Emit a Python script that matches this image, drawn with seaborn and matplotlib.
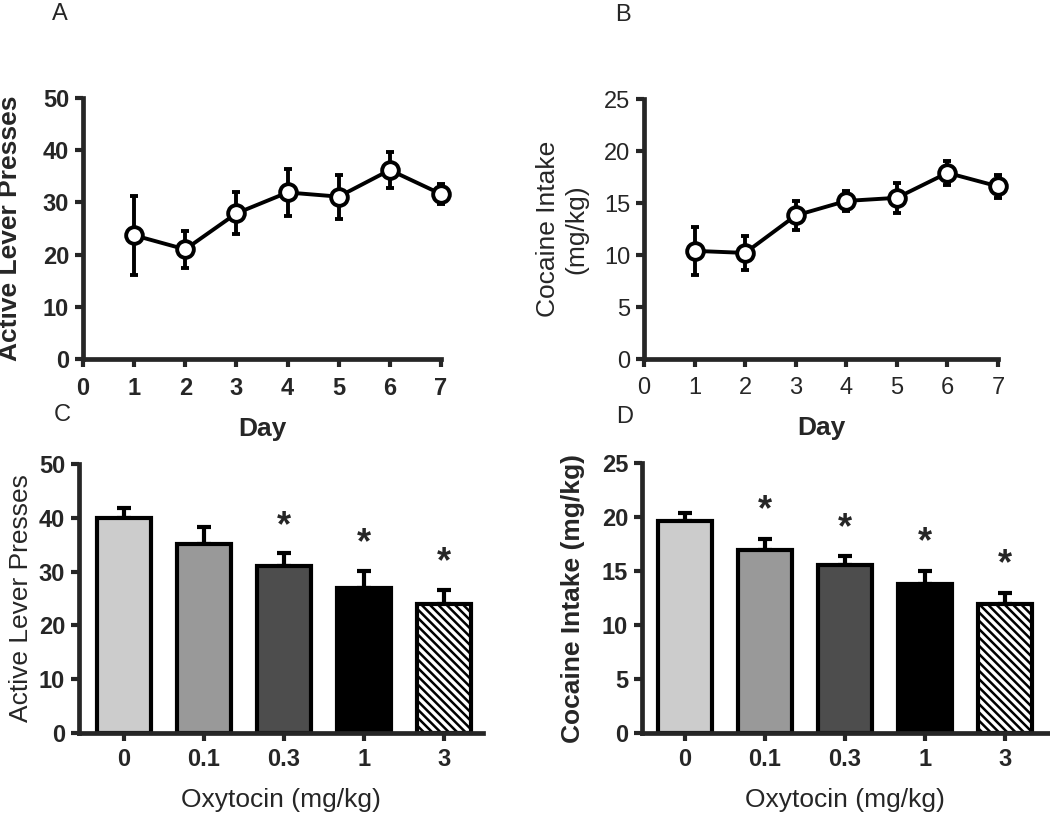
import numpy as np
import pandas as pd
import matplotlib
matplotlib.use("Agg")
import matplotlib.pyplot as plt
import seaborn as sns

# ---------------- DATA ----------------
days = [1, 2, 3, 4, 5, 6, 7]
a_presses = [23.7, 21.0, 27.9, 31.9, 31.1, 36.2, 31.6]
a_sem = [7.6, 3.5, 4.0, 4.5, 4.2, 3.5, 2.0]
b_intake = [10.4, 10.2, 13.8, 15.2, 15.5, 17.9, 16.6]
b_sem = [2.3, 1.6, 1.4, 1.0, 1.45, 1.15, 1.1]

doses = ["0", "0.1", "0.3", "1", "3"]
c_presses = [39.9, 35.1, 31.1, 27.0, 24.0]
c_sem = [2.0, 3.2, 2.3, 3.1, 2.6]
c_sig = [False, False, True, True, True]
d_intake = [19.6, 16.9, 15.6, 13.8, 11.9]
d_sem = [0.8, 1.1, 0.75, 1.2, 1.1]
d_sig = [False, True, True, True, True]

bar_colors = ["#cccccc", "#999999", "#4d4d4d", "#000000", "#ffffff"]

sns.set_style("ticks")
plt.rcParams["font.family"] = ["Liberation Sans", "DejaVu Sans"]
plt.rcParams["hatch.linewidth"] = 1.8

fig = plt.figure(figsize=(10.5, 8.15), dpi=100)
axA = fig.add_axes([0.079, 0.5595, 0.341, 0.3203])
axB = fig.add_axes([0.6133, 0.5595, 0.3372, 0.319])
axC = fig.add_axes([0.0752, 0.1006, 0.3848, 0.3301])
axD = fig.add_axes([0.6114, 0.1006, 0.3866, 0.3313])


def style_axes(ax, bold, pad):
    for s in ["top", "right"]:
        ax.spines[s].set_visible(False)
    for s in ["left", "bottom"]:
        ax.spines[s].set_linewidth(3.4)
    ax.tick_params(width=3, length=6, labelsize=17, pad=4)
    ax.tick_params(axis="x", pad=pad)
    for lab in ax.get_xticklabels() + ax.get_yticklabels():
        lab.set_fontweight("bold" if bold else "normal")


# ---------------- LINE PANELS ----------------
def line_panel(ax, y, err, ymax, step, ylabel, bold):
    df = pd.DataFrame({"Day": days, "val": y})
    ax.errorbar(days, y, yerr=err, fmt="none", ecolor="black",
                elinewidth=2.8, capsize=3, capthick=2.8, zorder=1, clip_on=False)
    sns.lineplot(data=df, x="Day", y="val", ax=ax, color="black", lw=2.8,
                 marker="o", markersize=12, markerfacecolor="white",
                 markeredgecolor="black", markeredgewidth=2.8, zorder=3, clip_on=False)
    ax.set_xlim(0, 7)
    ax.set_ylim(0, ymax)
    ax.set_xticks(range(0, 8))
    ax.set_yticks(np.arange(0, ymax + 1, step))
    ax.set_xlabel("Day", fontsize=19, fontweight="bold", labelpad=12)
    ax.set_ylabel(ylabel, fontsize=19, fontweight="bold" if bold else "normal")
    style_axes(ax, bold, 7)


line_panel(axA, a_presses, a_sem, 50, 10, "Active Lever Presses", True)
line_panel(axB, b_intake, b_sem, 25, 5, "Cocaine Intake\n(mg/kg)", False)
axA.yaxis.set_label_coords(-0.17, 0.5)
axB.yaxis.set_label_coords(-0.158, 0.5)


# ---------------- BAR PANELS ----------------
def bar_panel(ax, y, err, sig, ymax, step, ylabel, star_off, xlim, bold_label):
    df = pd.DataFrame({"dose": doses, "val": y})
    sns.barplot(data=df, x="dose", y="val", hue="dose", palette=bar_colors,
                ax=ax, width=0.675, edgecolor="black", linewidth=3,
                legend=False, errorbar=None, saturation=1)
    ax.patches[-1].set_hatch("\\\\\\\\")
    x = np.arange(len(doses))
    ax.errorbar(x, y, yerr=[np.zeros(len(y)), err], fmt="none", ecolor="black",
                elinewidth=3, capsize=5, capthick=3, zorder=0)
    for xi, yi, ei, s in zip(x, y, err, sig):
        if s:
            ax.text(xi, yi + ei + star_off, "*", ha="center", va="center",
                    fontsize=26, fontweight="bold")
    ax.set_xlim(*xlim)
    ax.set_ylim(0, ymax)
    ax.set_yticks(np.arange(0, ymax + 1, step))
    ax.set_xlabel("Oxytocin (mg/kg)", fontsize=19, labelpad=12)
    ax.set_ylabel(ylabel, fontsize=19, fontweight="bold" if bold_label else "normal")
    style_axes(ax, True, 5)


bar_panel(axC, c_presses, c_sem, c_sig, 50, 10, "Active Lever Presses", 5.0,
          (-0.56, 4.49), False)
bar_panel(axD, d_intake, d_sem, d_sig, 25, 5, "Cocaine Intake (mg/kg)", 2.6,
          (-0.54, 4.54), True)
axC.yaxis.set_label_coords(-0.114, 0.5)
axD.yaxis.set_label_coords(-0.14, 0.5)

# panel letters
fig.text(0.057, 0.983, "A", fontsize=17, ha="center", va="center")
fig.text(0.593, 0.981, "B", fontsize=17, ha="center", va="center")
fig.text(0.059, 0.491, "C", fontsize=17, ha="center", va="center")
fig.text(0.595, 0.488, "D", fontsize=17, ha="center", va="center")

fig.savefig("out.png", dpi=100)
